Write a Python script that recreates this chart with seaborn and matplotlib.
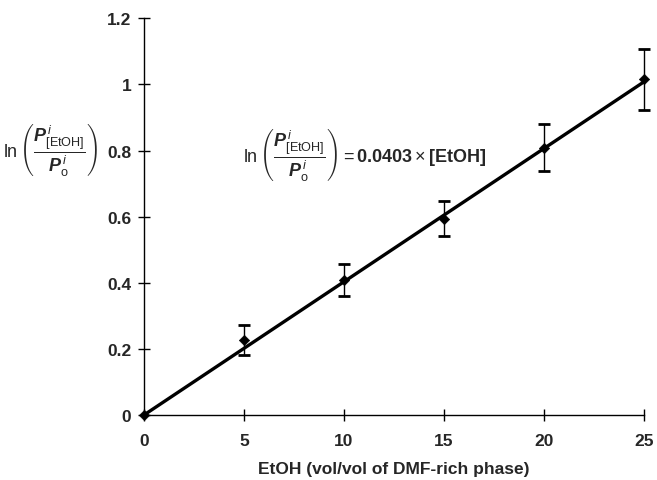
import numpy as np
import pandas as pd
import matplotlib
matplotlib.use("Agg")
import matplotlib.pyplot as plt
import seaborn as sns

# Data
etoh = [0, 5, 10, 15, 20, 25]
ln_ratio = [0.0, 0.227, 0.409, 0.594, 0.809, 1.015]
err = [0.0, 0.044, 0.049, 0.053, 0.072, 0.091]
slope = 0.0403
fit_x = [0, 25]
x_ticks = [0, 5, 10, 15, 20, 25]
y_ticks = [0, 0.2, 0.4, 0.6, 0.8, 1.0, 1.2]
y_tick_labels = ["0", "0.2", "0.4", "0.6", "0.8", "1", "1.2"]

sns.set_theme(style="ticks")
plt.rcParams["font.family"] = ["Liberation Sans", "DejaVu Sans"]
plt.rcParams["mathtext.fontset"] = "custom"
plt.rcParams["mathtext.rm"] = "Liberation Sans"
plt.rcParams["mathtext.it"] = "Liberation Sans:italic"
plt.rcParams["mathtext.bf"] = "Liberation Sans:bold"
plt.rcParams["mathtext.bfit"] = "Liberation Sans:bold:italic"

fig = plt.figure(figsize=(6.57, 4.81), dpi=100)
ax = fig.add_axes([0.219, 0.135, 0.761, 0.825])

df_fit = pd.DataFrame({"x": fit_x, "y": [slope * v for v in fit_x]})
sns.lineplot(data=df_fit, x="x", y="y", ax=ax, color="black", linewidth=2.4, zorder=2)

df = pd.DataFrame({"x": etoh, "y": ln_ratio, "e": err})
eb = ax.errorbar(df["x"][1:], df["y"][1:], yerr=df["e"][1:], fmt="none", ecolor="black",
                 elinewidth=1.0, capsize=4.5, capthick=2.0, zorder=3)
for artist in eb.lines[1] + eb.lines[2]:
    artist.set_clip_on(False)
sns.scatterplot(data=df, x="x", y="y", ax=ax, marker="D", s=28, color="black",
                edgecolor="black", zorder=4, clip_on=False)

ax.set_xlim(0, 25)
ax.set_ylim(0, 1.2)
ax.set_xticks(x_ticks)
ax.set_xticklabels([str(v) for v in x_ticks], fontsize=12.5, fontweight="bold")
ax.set_yticks(y_ticks)
ax.set_yticklabels(y_tick_labels, fontsize=12.5, fontweight="bold")
ax.tick_params(axis="x", direction="inout", length=8, width=1.0, color="black", pad=9)
ax.tick_params(axis="y", direction="inout", length=8, width=1.0, color="black", pad=5)
for s in ["top", "right"]:
    ax.spines[s].set_visible(False)
for s in ["left", "bottom"]:
    ax.spines[s].set_linewidth(1.0)
    ax.spines[s].set_color("black")

ax.set_xlabel("EtOH (vol/vol of DMF-rich phase)", fontsize=12.5, fontweight="bold", labelpad=9)
ax.set_ylabel("")

frac = (r"\ln\left(\dfrac{\mathbfit{P}^{\,i}_{[\mathrm{EtOH}]}}"
        r"{\mathbfit{P}^{\,i}_{\mathrm{o}}}\right)")
fig.text(0.005, 0.688, "$" + frac + "$", fontsize=13, ha="left", va="center")
ax.text(4.95, 0.79, "$" + frac + r" = \mathbf{0.0403}\times\mathbf{[EtOH]}$",
        fontsize=13, ha="left", va="center")

fig.savefig("out.png", dpi=100)
